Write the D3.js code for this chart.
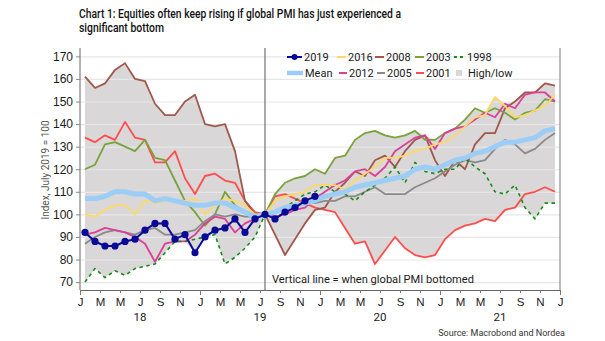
<!DOCTYPE html>
<html>
<head>
<meta charset="utf-8">
<script src="https://cdn.jsdelivr.net/npm/d3@7"></script>
<style>
  body { margin: 0; background: #fff; }
  svg { font-family: Roboto, "Noto Sans", sans-serif; }
</style>
</head>
<body>
<svg></svg>
<script>
var width = 605;
var height = 341;
var plotLeft = 80, plotRight = 560, plotTop = 48, plotBottom = 290;

// Index values, one per month starting Jan 2018 (July 2019 = 100)
var s2019 = [92,88,86,86,88,89,93,96,96,89,91,83,90,93,94,98,92,98,100,98,101,103,106,108];
var s2016 = [100,99,102,104,104,100,106,105,106,106,106,107,100,104,107,106,104,100,100,106,108,109,110,113,113,113,111,115,118,121,125,125,126,128,129,131,132,135,139,143,144,152,148,143,144,146,148,153];
var s2008 = [161,156,158,164,167,160,159,149,144,144,150,153,140,139,140,128,106,100,100,91,82,89,96,102,103,110,114,119,117,124,126,121,128,133,135,124,117,124,120,131,136,136,147,150,154,154,158,157];
var s2003 = [120,122,131,132,130,128,133,125,124,115,106,101,95,100,110,104,101,100,100,109,114,116,117,120,118,125,126,133,136,137,135,134,135,137,133,133,136,138,142,147,145,147,145,142,145,146,151,150];
var s1998 = [70,76,72,75,73,76,77,78,83,88,88,89,90,91,78,81,85,90,100,101,103,106,109,110,113,110,109,106,110,113,116,121,114,123,119,118,120,120,125,121,118,110,109,113,103,98,105,105];
var sMean = [107,107,108,110,110,109,109,106,107,106,105,104,104,105,105,103,101,99,100,101,103,104,105,106,108,109,110,112,113,114,115,116,117,120,121,120,122,124,125,127,128,130,132,132,133,134,137,138];
var s2012 = [91,92,94,93,92,90,87,79,87,88,88,91,96,99,98,92,96,98,100,99,100,102,103,107,110,113,115,119,120,117,121,128,131,134,135,129,136,138,139,142,145,143,149,147,153,154,154,150];
var s2005 = [87,90,92,93,92,91,93,94,91,91,92,93,97,100,99,100,99,99,100,101,103,103,105,105,106,106,108,108,110,112,109,109,109,112,114,116,119,122,124,123,124,129,133,131,127,129,133,136];
var s2001 = [134,132,135,133,141,134,133,123,123,128,116,109,117,118,115,114,106,101,100,108,109,107,105,103,102,101,94,87,88,78,84,90,85,82,81,82,89,93,95,96,98,97,102,103,109,110,112,110];

var monthLabels = ["J","M","M","J","S","N","J","M","M","J","S","N","J","M","M","J","S","N","J","M","M","J","S","N","J"];
var yearLabels = ["18","19","20","21"];
var yTicks = [70,80,90,100,110,120,130,140,150,160,170];

// Series table: drawing order, bottom to top
var series = [
  {name: "2001", values: s2001, color: "#ff4d4d", w: 1.8},
  {name: "2008", values: s2008, color: "#a0584a", w: 1.8},
  {name: "2003", values: s2003, color: "#78a33b", w: 1.8},
  {name: "2005", values: s2005, color: "#8a8a8a", w: 1.8},
  {name: "2012", values: s2012, color: "#dc3f98", w: 1.8},
  {name: "1998", values: s1998, color: "#178a17", w: 1.6, dash: "3.5,3.5"},
  {name: "2016", values: s2016, color: "#ffd868", w: 1.8},
  {name: "Mean", values: sMean, color: "#9ccdf6", w: 5},
  {name: "2019", values: s2019, color: "#0a0a96", w: 2}
];

var svg = d3.select("svg")
    .attr("width", width)
    .attr("height", height);

// x is months since Jan 2018, points sit mid-month
var xScale = d3.scaleLinear()
    .domain([0, 48])
    .range([plotLeft, plotRight]);

var yScale = d3.scaleLinear()
    .domain([66.5, 173.7])
    .range([plotBottom, plotTop]);

// High/low envelope over all the episodes
var nMonths = s2008.length;
var envelope = d3.range(nMonths).map(function(i) {
  var vals = series.filter(s => s.name != "Mean" && s.values[i] != null).map(s => s.values[i]);
  return {i: i, lo: d3.min(vals), hi: d3.max(vals)};
});

svg.append("path")
    .datum(envelope)
    .attr("fill", "#d9d7d7")
    .attr("d", d3.area()
        .x(d => xScale(d.i + 0.5))
        .y0(d => yScale(d.lo))
        .y1(d => yScale(d.hi)));

// Gridlines sit over the band
svg.append("g")
    .attr("transform", `translate(${plotLeft},0)`)
    .call(d3.axisLeft(yScale).tickValues(yTicks).tickSize(-(plotRight - plotLeft)).tickFormat(""))
    .call(g => g.select(".domain").remove())
    .call(g => g.selectAll("line").attr("stroke", "#e7e7e7").attr("stroke-width", 1.2));

// Y axis
var yAxis = svg.append("g")
    .attr("transform", `translate(${plotLeft},0)`)
    .call(d3.axisLeft(yScale).tickValues(yTicks).tickSize(4).tickSizeOuter(0).tickPadding(3));
yAxis.select(".domain").attr("stroke", "#666").attr("d", `M0,${plotTop}V${plotBottom}`);
yAxis.selectAll("line").attr("stroke", "#888");
yAxis.selectAll("text").attr("fill", "#1a1a1a").style("font-size", "12px");

// X axis with month letters every other month
var xAxis = svg.append("g")
    .attr("transform", `translate(0,${plotBottom})`)
    .call(d3.axisBottom(xScale)
        .tickValues(d3.range(0, 49, 2))
        .tickFormat((d, i) => monthLabels[i])
        .tickSize(3)
        .tickSizeOuter(0)
        .tickPadding(5));
xAxis.select(".domain").attr("stroke", "#666");
xAxis.selectAll(".tick line")
    .attr("stroke", "#777")
    .attr("y2", d => d % 12 == 0 ? 5 : 3);
xAxis.selectAll("text").attr("fill", "#1a1a1a").style("font-size", "11.5px");

// Year labels centred under each year
svg.append("g")
    .selectAll("text")
    .data(yearLabels)
    .enter()
    .append("text")
    .attr("x", (d, i) => xScale(6 + 12 * i))
    .attr("y", 321)
    .attr("text-anchor", "middle")
    .attr("fill", "#1a1a1a")
    .style("font-size", "11.5px")
    .text(d => d);

// Right frame and the vertical marker for the PMI bottom
svg.append("line")
    .attr("x1", plotRight).attr("x2", plotRight)
    .attr("y1", plotTop).attr("y2", plotBottom)
    .attr("stroke", "#777");

svg.append("line")
    .attr("x1", xScale(18.5)).attr("x2", xScale(18.5))
    .attr("y1", plotTop).attr("y2", plotBottom)
    .attr("stroke", "#555");

// Series lines
var line = d3.line()
    .x((d, i) => xScale(i + 0.5))
    .y(d => yScale(d));

svg.append("g")
    .selectAll("path")
    .data(series)
    .enter()
    .append("path")
    .attr("fill", "none")
    .attr("stroke", d => d.color)
    .attr("stroke-width", d => d.w)
    .attr("stroke-dasharray", d => d.dash || null)
    .attr("stroke-linejoin", "round")
    .attr("d", d => line(d.values));

// Markers on the current cycle
svg.append("g")
    .selectAll("circle")
    .data(s2019)
    .enter()
    .append("circle")
    .attr("cx", (d, i) => xScale(i + 0.5))
    .attr("cy", d => yScale(d))
    .attr("r", 3.6)
    .attr("fill", "#0a0a96");

// Legend
var legendItems = [
  {name: "2019", row: 0, x: 287, len: 15},
  {name: "2016", row: 0, x: 337, len: 9},
  {name: "2008", row: 0, x: 375, len: 9},
  {name: "2003", row: 0, x: 415, len: 9},
  {name: "1998", row: 0, x: 454, len: 11},
  {name: "Mean", row: 1, x: 287, len: 16},
  {name: "2012", row: 1, x: 339, len: 8},
  {name: "2005", row: 1, x: 377, len: 8},
  {name: "2001", row: 1, x: 416, len: 8},
  {name: "High/low", row: 1, x: 456, len: 6}
];

var legend = svg.append("g")
    .selectAll("g")
    .data(legendItems)
    .enter()
    .append("g")
    .attr("transform", d => `translate(${d.x},${57 + d.row * 16})`);

legend.each(function(d) {
  var g = d3.select(this);
  var s = series.find(s => s.name == d.name);
  if (s) {
    g.append("line")
        .attr("x1", 0).attr("x2", d.len)
        .attr("stroke", s.color)
        .attr("stroke-width", s.name == "Mean" ? 4.5 : 2)
        .attr("stroke-dasharray", s.dash ? "3,3" : null);
    if (s.name == "2019") {
      g.append("circle").attr("cx", d.len / 2).attr("r", 3).attr("fill", s.color);
    }
  } else {
    g.append("rect")
        .attr("x", 0).attr("y", -3)
        .attr("width", d.len).attr("height", 6)
        .attr("fill", "#d9d7d7");
  }
  g.append("text")
      .attr("x", d.len + (d.name == "High/low" ? 6 : 2))
      .attr("dy", "0.35em")
      .attr("fill", "#1a1a1a")
      .style("font-size", "11px")
      .text(d.name);
});

// Titles and notes
svg.append("text")
    .attr("x", 79)
    .attr("y", 17.5)
    .attr("fill", "#111")
    .attr("textLength", 322)
    .attr("lengthAdjust", "spacingAndGlyphs")
    .style("font-size", "12px")
    .style("font-weight", 500)
    .text("Chart 1: Equities often keep rising if global PMI has just experienced a");

svg.append("text")
    .attr("x", 79)
    .attr("y", 32)
    .attr("fill", "#111")
    .attr("textLength", 85)
    .attr("lengthAdjust", "spacingAndGlyphs")
    .style("font-size", "12px")
    .style("font-weight", 500)
    .text("significant bottom");

svg.append("text")
    .attr("transform", "rotate(-90)")
    .attr("x", -170)
    .attr("y", 49)
    .attr("text-anchor", "middle")
    .attr("fill", "#555")
    .style("font-size", "10px")
    .text("Index, July 2019 = 100");

svg.append("text")
    .attr("x", 272)
    .attr("y", 283)
    .attr("fill", "#1a1a1a")
    .attr("textLength", 202)
    .attr("lengthAdjust", "spacingAndGlyphs")
    .style("font-size", "11.5px")
    .text("Vertical line = when global PMI bottomed");

svg.append("text")
    .attr("x", 565)
    .attr("y", 336)
    .attr("text-anchor", "end")
    .attr("fill", "#333")
    .style("font-size", "9px")
    .text("Source: Macrobond and Nordea");
</script>
</body>
</html>
